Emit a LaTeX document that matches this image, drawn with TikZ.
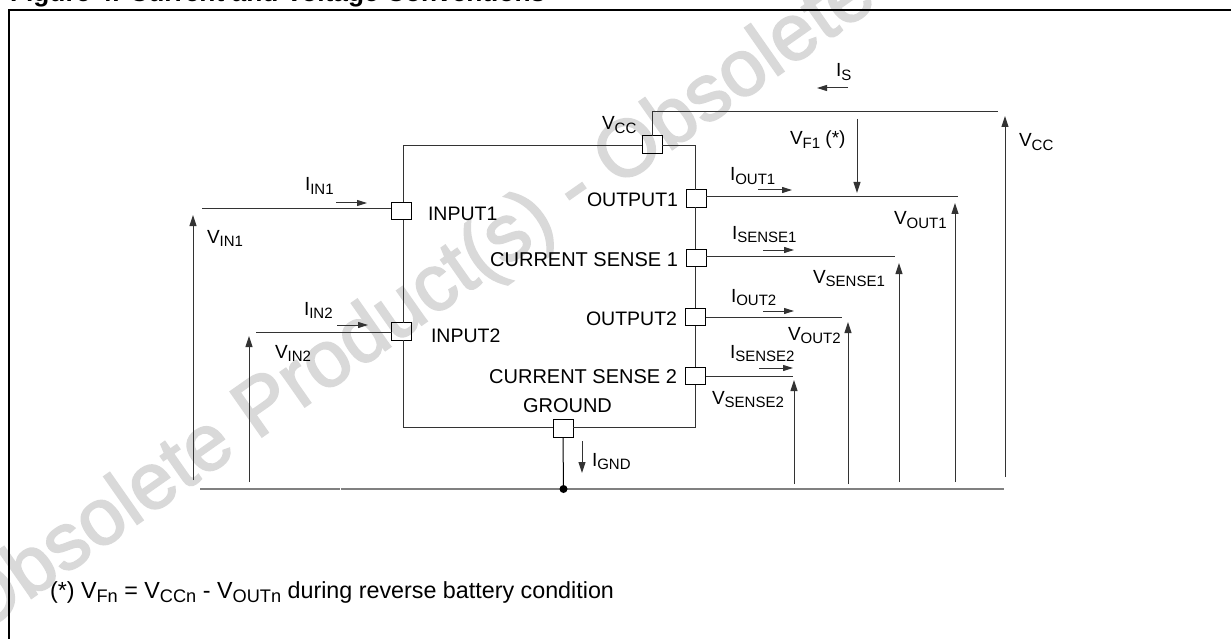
\documentclass[tikz,border=0pt]{standalone}
\usepackage{fontspec}
\setmainfont{Liberation Sans}
\newfontfamily\wmfont[FakeBold=2.2]{Liberation Sans}
\usetikzlibrary{arrows.meta}
\newcommand\lowsub[1]{\raisebox{-3.5pt}{\fontsize{15}{15}\selectfont #1}}
\newcommand\notesub[1]{\raisebox{-4pt}{\fontsize{18.2}{18.2}\selectfont #1}}
\definecolor{wmark}{gray}{0.85}
\definecolor{wire}{gray}{0.2}
\tikzset{
  x=1pt,y=-1pt,
  lab/.style={inner sep=0pt,outer sep=0pt,anchor=base west,font=\fontsize{19}{22}\selectfont},
  labr/.style={lab,anchor=base east},
  pinlab/.style={lab,font=\fontsize{19.5}{22}\selectfont},
  pinlabr/.style={pinlab,anchor=base east},
  widelab/.style={pinlabr,font=\fontsize{20}{22}\selectfont},
  pinbox/.style={draw=black,line width=0.9pt,minimum width=20pt,minimum height=17.5pt,inner sep=0pt,outer sep=0pt},
  wireline/.style={draw=wire,line width=1pt},
  bus/.style={draw=black!50,line width=2pt},
  varrow/.style={wireline,-{Triangle[length=11pt,width=7pt]}},
  iarrow/.style={wireline,-{Triangle[length=10pt,width=6pt]}},
  frameline/.style={draw=black,line width=2pt}
}
\begin{document}
\begin{tikzpicture}
\clip (0,0) rectangle (1231,639);
\fill[white] (0,0) rectangle (1231,639);
% watermark
\node[inner sep=0pt,anchor=base west,rotate=35,text=wmark,font=\wmfont\fontsize{80}{90}\selectfont] (wm) at (-24,637) {Obsolete Product(s) - Obsolete};
% title and frame
\node[lab,font=\bfseries\fontsize{26.3}{30}\selectfont] (title) at (10,2) {Figure 4. Current and Voltage Conventions};
\coordinate (fb) at (9,639);
\coordinate (ft) at (9,10);
\coordinate (fr) at (1231,10);
\draw[frameline] (fb) -- (ft) -- (fr);
% pins
\node[pinbox] (pvcc) at (652,144.5) {};
\node[pinbox] (pout1) at (696,198.5) {};
\node[pinbox] (psen1) at (696,258) {};
\node[pinbox] (pout2) at (695.5,317) {};
\node[pinbox] (psen2) at (695.5,376) {};
\node[pinbox] (pin1) at (401,211) {};
\node[pinbox] (pin2) at (401.5,331.5) {};
\node[pinbox] (pgnd) at (563,428.5) {};
% body
\coordinate (tl) at (403,146);
\coordinate (tr) at (695,146);
\coordinate (br) at (695,427);
\coordinate (bl) at (403,427);
\draw[wireline] (pvcc.east |- tr) -- (tr) -- (pout1.north -| tr);
\draw[wireline] (pout1.south -| tr) -- (psen1.north -| tr);
\draw[wireline] (psen1.south -| tr) -- (pout2.north -| tr);
\draw[wireline] (pout2.south -| tr) -- (psen2.north -| tr);
\draw[wireline] (psen2.south -| tr) -- (br) -- (pgnd.east |- br);
\draw[wireline] (pgnd.west |- bl) -- (bl) -- (pin2.south -| bl);
\draw[wireline] (pin2.north -| bl) -- (pin1.south -| bl);
\draw[wireline] (pin1.north -| bl) -- (tl) -- (pvcc.west |- tl);
% outer wires
\coordinate (vcct) at (652,112);
\coordinate (vcce) at (998,112);
\draw[wireline] (pvcc.north) -- (vcct) -- (vcce);
\coordinate (o1e) at (958,197);
\coordinate (s1e) at (895,256.5);
\coordinate (o2e) at (842,317);
\coordinate (s2e) at (793,376);
\coordinate (i1e) at (202,209);
\coordinate (i2e) at (256,332);
\draw[wireline] (pout1.east |- o1e) -- (o1e);
\draw[wireline] (psen1.east |- s1e) -- (s1e);
\draw[wireline] (pout2.east |- o2e) -- (o2e);
\draw[wireline] (psen2.east |- s2e) -- (s2e);
\draw[wireline] (pin1.west |- i1e) -- (i1e);
\draw[wireline] (pin2.west |- i2e) -- (i2e);
% ground bus
\coordinate (busl) at (200,489);
\coordinate (busgap1) at (339.5,489);
\coordinate (busgap2) at (340.5,489);
\coordinate (busr) at (1004,489);
\coordinate (busj) at (563.5,489);
\draw[bus] (busl) -- (busgap1);
\draw[bus] (busgap2) -- (busr);
\draw[line width=1pt,draw=black] (pgnd.south) -- (busj);
\fill[black] (busj) circle[radius=4];
% voltage arrows
\foreach \nm/\px/\ya/\yb in {avcc/1005/477/116,avo1/955/482/203,avs1/899/482/263,avo2/848/484/322,avs2/794/484/380,avi1/193/480/215,avi2/249/482/336,avf/857/119/193,aig/582/441/473}{
  \coordinate (\nm a) at (\px,\ya);
  \coordinate (\nm b) at (\px,\yb);
  \draw[varrow] (\nm a) -- (\nm b);
}
% current arrows
\foreach \nm/\xa/\xb/\py in {cis/848/817/88,cio1/758/792/190,cis1/763/794/250,cio2/763/794/311,cis2/759/793/368,cii1/336/367/203,cii2/337/368/325}{
  \coordinate (\nm a) at (\xa,\py);
  \coordinate (\nm b) at (\xb,\py);
  \draw[iarrow] (\nm a) -- (\nm b);
}
% labels
\node[lab] (lvcc) at (602,130) {V\lowsub{CC}};
\node[lab] (lis) at (836,77) {I\lowsub{S}};
\node[lab] (lvf) at (790,145) {V\lowsub{F1} (*)};
\node[lab] (lio1) at (730,181) {I\lowsub{OUT1}};
\node[lab] (lvo1) at (894,225) {V\lowsub{OUT1}};
\node[lab] (lis1) at (732,239) {I\lowsub{SENSE1}};
\node[lab] (lvs1) at (813,283) {V\lowsub{SENSE1}};
\node[lab] (lio2) at (731,302) {I\lowsub{OUT2}};
\node[lab] (lvo2) at (788,340) {V\lowsub{OUT2}};
\node[lab] (lis2) at (730,358) {I\lowsub{SENSE2}};
\node[lab] (lvs2) at (712,404) {V\lowsub{SENSE2}};
\node[lab] (lvccr) at (1019,147) {V\lowsub{CC}};
\node[lab] (lii1) at (305,191) {I\lowsub{IN1}};
\node[lab] (lvi1) at (207,243) {V\lowsub{IN1}};
\node[lab] (lii2) at (304,315) {I\lowsub{IN2}};
\node[lab] (lvi2) at (275,358) {V\lowsub{IN2}};
\node[pinlab] (tin1) at (428,221) {INPUT1};
\node[pinlab] (tin2) at (431,342) {INPUT2};
\node[pinlabr] (tout1) at (678,207) {OUTPUT1};
\node[widelab] (tsen1) at (678,266) {CURRENT SENSE 1};
\node[pinlabr] (tout2) at (677,325) {OUTPUT2};
\node[widelab] (tsen2) at (677,383) {CURRENT SENSE 2};
\node[widelab,anchor=base west] (tgnd) at (523,412) {GROUND};
\node[lab] (lig) at (592,466) {I\lowsub{GND}};
\node[lab,font=\fontsize{23.3}{26}\selectfont] (note) at (50,598) {(*) V\notesub{Fn} = V\notesub{CCn} - V\notesub{OUTn} during reverse battery condition};
\end{tikzpicture}
\end{document}
